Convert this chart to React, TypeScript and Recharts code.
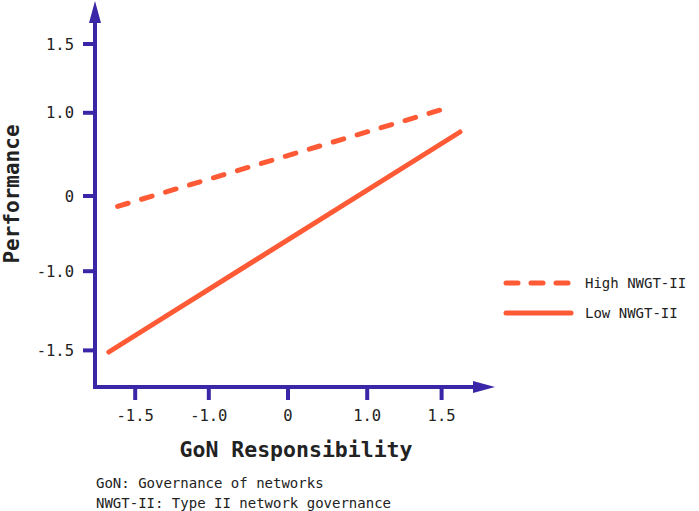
import React from 'react';
import { LineChart, Line, XAxis, YAxis, Customized } from 'recharts';

// tick positions on each axis and the text printed at them
const xTicks = [-1.91, -0.99, 0, 0.99, 1.92];
const xTickLabels = ['-1.5', '-1.0', '0', '1.0', '1.5'];
const yTicks = [1.9, 1.04, 0, -0.94, -1.93];
const yTickLabels = ['1.5', '1.0', '0', '-1.0', '-1.5'];

// simple slopes: performance against GoN responsibility
const highNwgt = [
  { x: -2.13, y: -0.13 },
  { x: 1.92, y: 1.08 },
];
const lowNwgt = [
  { x: -2.24, y: -1.95 },
  { x: 2.15, y: 0.8 },
];

const seriesNames = ['High NWGT-II', 'Low NWGT-II'];
const footnotes = ['GoN: Governance of networks', 'NWGT-II: Type II network governance'];

const AXIS = '#3a27a8';
const LINE = '#ff5a36';
const INK = '#222222';
const FONT = '"DejaVu Sans Mono", "Liberation Mono", monospace';

const W = 699;
const H = 511;
const Y_AXIS_W = 30;
const X_AXIS_H = 30;
// plot box: left 95, top 20, right 475, bottom 387
const margin = { top: 20, right: 224, bottom: 124 - X_AXIS_H, left: 95 - Y_AXIS_W };

const Decorations = () => {
  const left = 95;
  const bottom = 387;
  const right = 475;
  const top = 20;
  return (
    <g>
      {/* arrow heads */}
      <polygon points={`${left - 6},${top + 3} ${left + 6},${top + 3} ${left},${top - 19}`} fill={AXIS} />
      <polygon points={`${right - 2},${bottom - 6} ${right - 2},${bottom + 6} ${right + 20},${bottom}`} fill={AXIS} />

      {/* axis titles */}
      <text
        x={12}
        y={194}
        transform="rotate(-90 12 194)"
        textAnchor="middle"
        dominantBaseline="central"
        fontFamily={FONT}
        fontWeight="bold"
        fontSize={21}
        fill={INK}
      >
        Performance
      </text>
      <text x={296} y={457} textAnchor="middle" fontFamily={FONT} fontWeight="bold" fontSize={21.5} fill={INK}>
        GoN Responsibility
      </text>

      {/* legend */}
      <line x1={506} x2={571} y1={283} y2={283} stroke={LINE} strokeWidth={5} strokeLinecap="round" strokeDasharray="12 13" />
      <line x1={506} x2={571} y1={313} y2={313} stroke={LINE} strokeWidth={5} strokeLinecap="round" />
      <text x={585} y={288} fontFamily={FONT} fontSize={14} fill={INK}>
        {seriesNames[0]}
      </text>
      <text x={585} y={318} fontFamily={FONT} fontSize={14} fill={INK}>
        {seriesNames[1]}
      </text>

      {/* footnotes */}
      {footnotes.map((t, i) => (
        <text key={t} x={96} y={488 + i * 20} fontFamily={FONT} fontSize={14} fill={INK}>
          {t}
        </text>
      ))}
    </g>
  );
};

export default function App() {
  return (
    <div style={{ position: 'absolute', left: 0, top: 0, width: W, height: H, background: '#fff' }}>
      <LineChart width={W} height={H} margin={margin}>
        <XAxis
          type="number"
          dataKey="x"
          domain={[-2.4125, 2.3375]}
          ticks={xTicks}
          tickFormatter={(_v: number, i: number) => xTickLabels[i]}
          height={X_AXIS_H}
          tickSize={13}
          tickMargin={10}
          axisLine={{ stroke: AXIS, strokeWidth: 4, strokeLinecap: 'square' }}
          tickLine={{ stroke: AXIS, strokeWidth: 4 }}
          tick={{ fill: INK, fontSize: 15.5, fontFamily: FONT }}
          interval={0}
        />
        <YAxis
          type="number"
          dataKey="y"
          domain={[-2.3875, 2.2]}
          ticks={yTicks}
          tickFormatter={(_v: number, i: number) => yTickLabels[i]}
          width={Y_AXIS_W}
          tickSize={12}
          tickMargin={9}
          axisLine={{ stroke: AXIS, strokeWidth: 4, strokeLinecap: 'square' }}
          tickLine={{ stroke: AXIS, strokeWidth: 4 }}
          tick={{ fill: INK, fontSize: 15.5, fontFamily: FONT }}
          interval={0}
        />
        <Line
          data={highNwgt}
          dataKey="y"
          name={seriesNames[0]}
          stroke={LINE}
          strokeWidth={5}
          strokeLinecap="round"
          strokeDasharray="11 14"
          dot={false}
          isAnimationActive={false}
        />
        <Line
          data={lowNwgt}
          dataKey="y"
          name={seriesNames[1]}
          stroke={LINE}
          strokeWidth={5}
          strokeLinecap="round"
          dot={false}
          isAnimationActive={false}
        />
        <Customized component={Decorations} />
      </LineChart>
    </div>
  );
}
